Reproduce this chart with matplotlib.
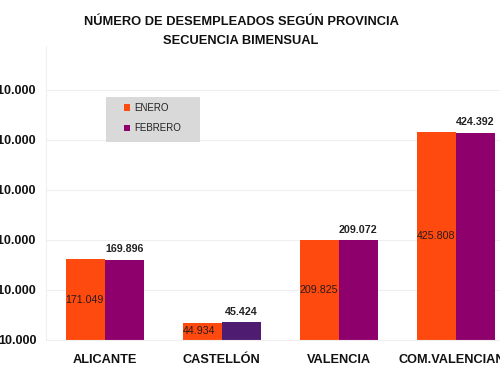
import matplotlib
matplotlib.use("Agg")
import matplotlib.pyplot as plt
from matplotlib.patches import Rectangle, Patch
import numpy as np

categories = ["ALICANTE", "CASTELLÓN", "VALENCIA", "COM.VALENCIANA"]
enero = [171049, 44934, 209825, 425808]
febrero = [169896, 45424, 209072, 424392]
enero_labels = ["171.049", "44.934", "209.825", "425.808"]
febrero_labels = ["169.896", "45.424", "209.072", "424.392"]
yticks = [10000, 110000, 210000, 310000, 410000, 510000]
ytick_labels = ["10.000", "110.000", "210.000", "310.000", "410.000", "510.000"]

plt.rcParams['font.family'] = ['Liberation Sans', 'DejaVu Sans']

orange = "#FF4A0F"
purple = "#8E006B"
purple_cast = "#4E1D72"

fig = plt.figure(figsize=(5, 3.8), dpi=100)
W, H = 500, 380
left, right, top, bottom = 46, 514.5, 46, 340
ax = fig.add_axes([left / W, 1 - bottom / H, (right - left) / W, (bottom - top) / H])

x = np.arange(len(categories))
bw = 1 / 3
base = 10000
ax.bar(x - bw / 2, np.array(enero) - base, bw, bottom=base, color=orange, zorder=2)
fcolors = [purple, purple_cast, purple, purple]
ax.bar(x + bw / 2, np.array(febrero) - base, bw, bottom=base, color=fcolors, zorder=2)

for i in range(len(categories)):
    ax.text(x[i] - bw, (enero[i] + base) / 2, enero_labels[i], ha="left", va="center",
            fontsize=7.7, color="#2a1a1a", zorder=3)
    ax.annotate(febrero_labels[i], (x[i] + bw / 2, febrero[i]), xytext=(0, 4),
                textcoords="offset points", ha="center", va="bottom",
                fontsize=7.7, fontweight="bold", color="#222222", zorder=3)

ax.set_xlim(-0.5, 3.5)
ax.set_ylim(base, 598000)
ax.set_yticks(yticks)
ax.set_yticklabels(ytick_labels, fontsize=9, fontweight="bold")
ax.set_xticks(x)
ax.set_xticklabels(categories, fontsize=9.2, fontweight="bold")
ax.tick_params(axis="both", length=0, colors="#111111")
ax.tick_params(axis="y", pad=7)
ax.tick_params(axis="x", pad=10)
ax.grid(axis="y", color="#EFEFEF", linewidth=0.8, zorder=0)
for s in ["top", "right"]:
    ax.spines[s].set_visible(False)
ax.spines["left"].set_color("#EFEFEF")
ax.spines["bottom"].set_color("#EFEFEF")

# legend box
lx0 = (106 - left) / (right - left)
ly0 = (bottom - 142) / (bottom - top)
lw = 94 / (right - left)
lh = 45 / (bottom - top)
ax.add_patch(Rectangle((lx0, ly0), lw, lh, transform=ax.transAxes,
                       facecolor="#D9D9D9", edgecolor="none", zorder=4))
handles = [Patch(facecolor=orange, label="ENERO"), Patch(facecolor=purple, label="FEBRERO")]
leg = ax.legend(handles=handles, loc="upper left",
                bbox_to_anchor=((124 - left) / (right - left), (bottom - 103) / (bottom - top)),
                frameon=False, fontsize=7, handlelength=0.6, handleheight=0.6,
                handletextpad=0.45, labelspacing=1.05, borderpad=0, borderaxespad=0)
leg.set_zorder(5)
for t in leg.get_texts():
    t.set_color("#222222")

fig.text(241 / W, 1 - 22 / H, "NÚMERO DE DESEMPLEADOS SEGÚN PROVINCIA", ha="center", va="center",
         fontsize=9.3, fontweight="bold", color="#111111")
fig.text(241 / W, 1 - 41 / H, "SECUENCIA BIMENSUAL", ha="center", va="center",
         fontsize=9.3, fontweight="bold", color="#111111")

fig.savefig("out.png", dpi=100)
